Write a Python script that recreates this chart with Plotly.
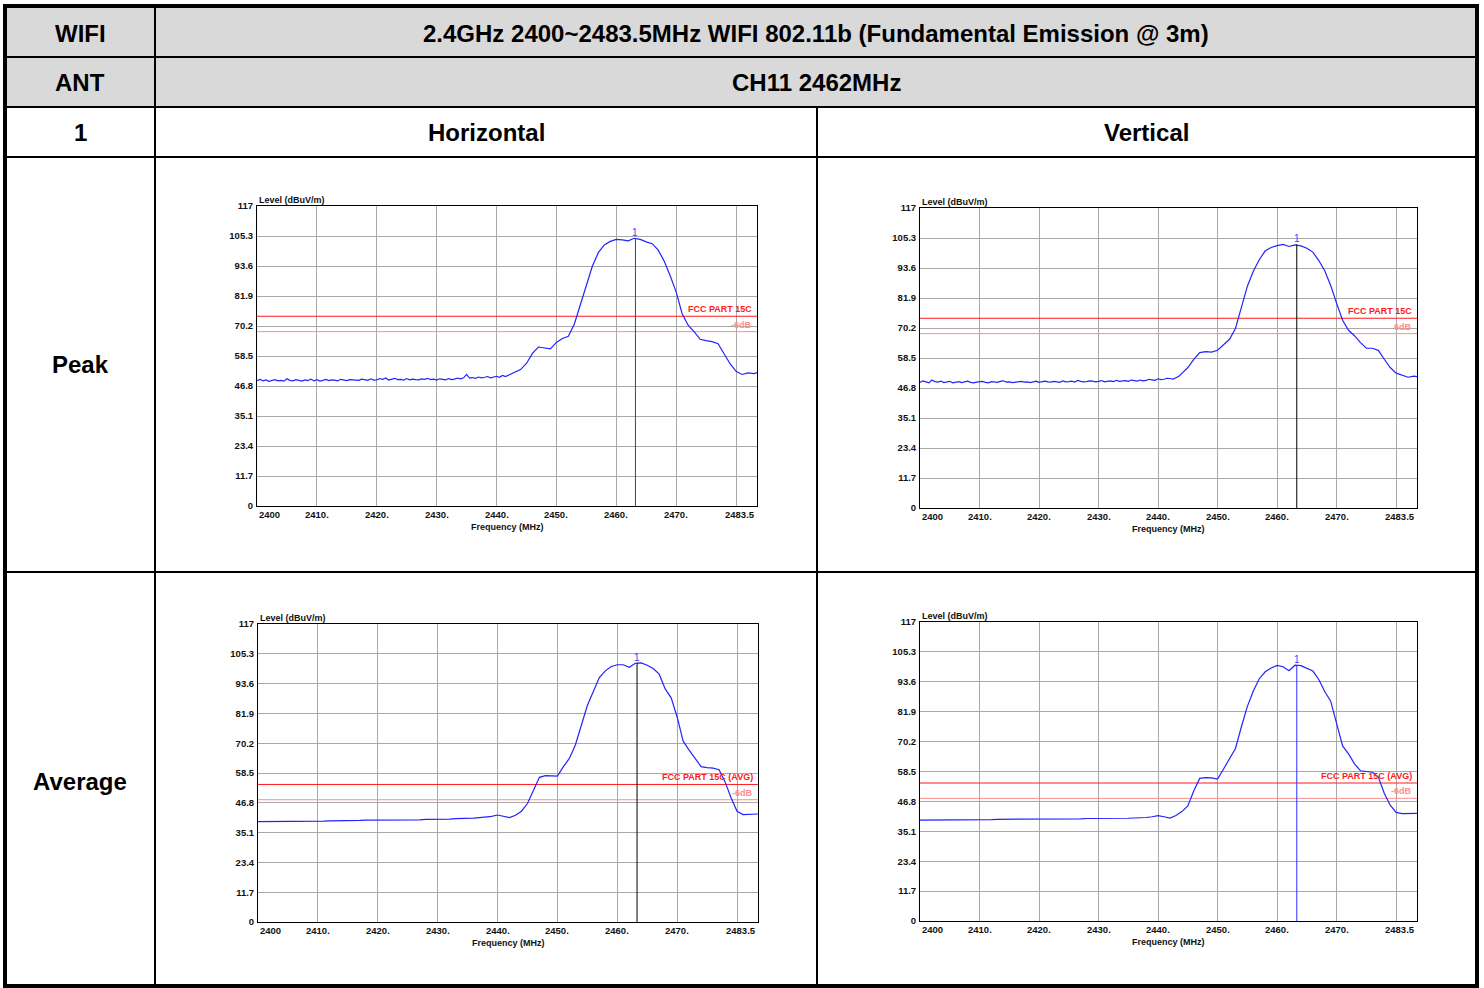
import plotly.graph_objects as go

# 频率轴 (MHz): 峰值图底噪部分 0.5 MHz 一点, 其余 1 MHz 一点
FREQ_PK = [2400 + 0.5 * i for i in range(88)] + [2444 + i for i in range(40)] + [2483.5]
FREQ_AV = [2400 + i for i in range(84)] + [2483.5]

# 四个测试图的读数 (dBuV/m)
peak_h = [48.9, 49.4, 48.8, 49.2, 48.6, 49.1, 49.3, 48.8, 49.0, 48.7,   # 2400-2404.5
          49.6, 49.0, 48.8, 49.3, 49.1, 48.7, 49.2, 48.9, 49.5, 48.8,   # 2405-2409.5
          49.3, 48.7, 49.0, 49.4, 48.9, 49.2, 49.1, 48.8, 49.4, 49.0,   # 2410-2414.5
          48.9, 49.3, 49.2, 48.9, 49.0, 49.5, 49.3, 49.0, 49.6, 49.1,   # 2415-2419.5
          49.2, 49.7, 49.4, 49.9, 49.1, 49.5, 49.8, 49.3, 49.4, 49.1,   # 2420-2424.5
          49.7, 49.2, 49.5, 49.3, 49.2, 49.6, 49.4, 49.8, 49.3, 49.5,   # 2425-2429.5
          49.1, 49.6, 49.4, 49.2, 49.7, 49.3, 49.5, 49.9, 49.6, 50.0,   # 2430-2434.5
          51.3, 49.9, 50.1, 49.8, 50.3, 50.0, 50.2, 50.5, 50.0, 50.4,   # 2435-2439.5
          50.6, 50.2, 50.9, 50.5, 51.0, 51.4, 52.1, 52.6,               # 2440-2443.5
          53.2, 55.6, 59.5, 62.0, 61.7, 61.3,                           # 2444-2449
          63.8, 65.3, 66.2, 71.0, 78.5, 86.5, 93.5, 98.8, 101.8, 103.2,
          104.0, 103.8, 103.4, 104.4, 104.0, 103.0, 102.3, 99.8, 95.5, 89.8,
          83.5, 75.0, 70.5, 68.0, 65.0, 64.5, 64.1, 63.3, 59.5, 55.5,
          52.5, 51.3, 51.9, 51.6, 52.0]
peak_v = [49.0, 49.6, 49.2, 48.8, 49.9, 49.3, 49.1, 49.5, 48.9, 49.2,   # 2400-2404.5
          49.4, 48.8, 49.1, 49.3, 48.9, 49.2, 49.5, 49.0, 48.8, 49.1,   # 2405-2409.5
          49.2, 49.4, 49.0, 48.8, 49.3, 49.1, 49.0, 49.4, 49.6, 49.1,   # 2410-2414.5
          49.2, 48.9, 49.0, 49.3, 49.4, 49.1, 49.2, 48.9, 49.1, 49.5,   # 2415-2419.5
          49.0, 49.3, 49.5, 49.2, 49.1, 49.4, 49.3, 49.0, 49.6, 49.2,   # 2420-2424.5
          49.3, 49.5, 49.1, 49.8, 49.4, 49.2, 49.3, 49.6, 49.5, 49.2,   # 2425-2429.5
          49.4, 49.7, 49.2, 49.5, 49.6, 49.3, 49.8, 49.4, 49.5, 49.7,   # 2430-2434.5
          49.4, 49.9, 49.7, 49.5, 49.9, 49.6, 49.8, 50.2, 50.0, 49.8,   # 2435-2439.5
          50.4, 50.1, 50.2, 50.6, 50.5, 50.3, 50.8, 51.4,               # 2440-2443.5
          52.5, 54.8, 58.0, 60.6, 61.0, 60.8,                           # 2444-2449
          61.5, 63.5, 65.8, 70.0, 78.5, 86.5, 92.3, 96.8, 100.3, 101.6,
          102.3, 102.8, 102.0, 102.6, 102.2, 101.3, 99.8, 96.5, 92.5, 86.8,
          79.8, 73.2, 69.3, 67.2, 64.5, 62.3, 62.3, 61.5, 58.0, 54.8,
          52.6, 51.7, 51.0, 51.4, 51.2]
avg_h = [39.4, 39.4, 39.4, 39.5, 39.4, 39.5, 39.5, 39.5, 39.5, 39.6,
         39.6, 39.6, 39.7, 39.7, 39.7, 39.8, 39.8, 39.9, 40.0, 40.0,
         40.0, 40.1, 40.1, 40.1, 40.2, 40.2, 40.2, 40.1, 40.3, 40.3,
         40.3, 40.4, 40.4, 40.6, 40.6, 40.7, 40.8, 41.0, 41.2, 41.5,
         42.0, 41.4, 41.0, 41.9, 43.5, 46.5, 51.5, 56.8, 57.5, 57.5,
         57.3, 61.0, 64.2, 69.5, 77.0, 85.0, 90.5, 96.0, 98.6, 100.3,
         101.0, 101.0, 100.0, 101.6, 101.7, 100.8, 99.5, 97.3, 91.5, 88.0,
         80.5, 71.0, 67.5, 64.0, 61.0, 60.6, 60.4, 59.8, 55.0, 48.8,
         43.5, 42.2, 42.3, 42.4, 42.4]
avg_v = [39.5, 39.5, 39.5, 39.5, 39.6, 39.6, 39.6, 39.6, 39.6, 39.7,
         39.7, 39.7, 39.7, 39.8, 39.8, 39.8, 39.8, 39.9, 39.9, 39.9,
         39.9, 39.9, 40.0, 40.0, 40.0, 40.0, 40.0, 40.0, 40.1, 40.1,
         40.0, 40.1, 40.1, 40.2, 40.2, 40.2, 40.3, 40.3, 40.5, 40.8,
         41.2, 40.8, 40.3, 41.3, 42.8, 45.0, 51.0, 55.8, 56.1, 56.0,
         55.5, 59.5, 63.3, 67.5, 76.0, 84.0, 90.0, 94.8, 97.5, 99.0,
         100.0, 99.5, 97.9, 100.1, 99.9, 99.0, 97.8, 94.5, 89.8, 86.0,
         77.6, 68.5, 65.4, 61.5, 58.8, 58.5, 58.2, 56.3, 50.0, 45.3,
         42.5, 42.0, 42.1, 42.0, 42.1]

marker_freq = [2463.2, 2463.3, 2463.3, 2463.3]
marker_level = [104.4, 102.8, 101.8, 100.1]

peak_limit = 74
avg_limit = 54
limit_margin = 6

y_ticks = [0, 11.7, 23.4, 35.1, 46.8, 58.5, 70.2, 81.9, 93.6, 105.3, 117]
y_labels = ["0", "11.7", "23.4", "35.1", "46.8", "58.5", "70.2", "81.9", "93.6", "105.3", "117"]
x_grid = [2410, 2420, 2430, 2440, 2450, 2460, 2470, 2480]
x_ticks = [2400, 2410, 2420, 2430, 2440, 2450, 2460, 2470, 2483.5]
x_labels = ["2400", "2410.", "2420.", "2430.", "2440.", "2450.", "2460.", "2470.", "2483.5"]

W, H = 1484, 988
FONT = "Arial, 'Liberation Sans', sans-serif"


def px(x):
    return x / W


def py(y):
    return 1 - y / H


# 每个图: 频率, 数据, 限值, 限值标签, 6dB 标签, 标记线颜色, 像素框 (左, 上, 右, 下)
panels = [
    (FREQ_PK, peak_h, peak_limit, "FCC PART 15C", "-6dB", "#3030ff", (257, 206, 757, 506)),
    (FREQ_PK, peak_v, peak_limit, "FCC PART 15C", "6dB", "#000000", (920, 208, 1417, 508)),
    (FREQ_AV, avg_h, avg_limit, "FCC PART 15C (AVG)", "-6dB", "#000000", (258, 624, 758, 922)),
    (FREQ_AV, avg_v, avg_limit, "FCC PART 15C (AVG)", "-6dB", "#3030ff", (920, 622, 1417, 921)),
]

fig = go.Figure()
annotations = []
shapes = []

for i, (freq, vals, limit, lim_text, db_text, mk_color, box) in enumerate(panels, start=1):
    xa = "x" if i == 1 else f"x{i}"
    ya = "y" if i == 1 else f"y{i}"
    l, t, r, b = box
    fig.update_layout({
        f"xaxis{'' if i == 1 else i}": dict(
            domain=[px(l), px(r)], anchor=ya, range=[2400, 2483.5],
            tickvals=x_grid, showticklabels=False, ticks="", automargin=False,
            showgrid=True, gridcolor="#a8a8a8", gridwidth=1, zeroline=False,
            showline=True, linecolor="black", linewidth=1, mirror=True,
        ),
        f"yaxis{'' if i == 1 else i}": dict(
            domain=[py(b), py(t)], anchor=xa, range=[0, 117],
            tickvals=y_ticks, ticktext=[f"<b>{s}</b>" for s in y_labels],
            tickfont=dict(size=9.5, color="#111111", family=FONT), ticks="",
            ticklabelstandoff=1, automargin=False,
            showgrid=True, gridcolor="#a8a8a8", gridwidth=1, zeroline=False,
            showline=True, linecolor="black", linewidth=1, mirror=True,
        ),
    })

    # 限值线
    fig.add_trace(go.Scatter(x=[2400, 2483.5], y=[limit, limit], mode="lines",
                             line=dict(color="#ff1a1a", width=1), xaxis=xa, yaxis=ya,
                             hoverinfo="skip", showlegend=False))
    fig.add_trace(go.Scatter(x=[2400, 2483.5], y=[limit - limit_margin] * 2, mode="lines",
                             line=dict(color="#ff8c8c", width=1), xaxis=xa, yaxis=ya,
                             hoverinfo="skip", showlegend=False))
    # 测量曲线
    fig.add_trace(go.Scatter(x=freq, y=vals, mode="lines",
                             line=dict(color="#2323ff", width=1.2), xaxis=xa, yaxis=ya,
                             showlegend=False))
    # 标记线
    mf, ml = marker_freq[i - 1], marker_level[i - 1]
    fig.add_trace(go.Scatter(x=[mf, mf], y=[0, ml], mode="lines",
                             line=dict(color=mk_color, width=1), xaxis=xa, yaxis=ya,
                             hoverinfo="skip", showlegend=False))

    small = dict(family=FONT, size=9, color="#111111")
    annotations += [
        dict(text="<b>Level (dBuV/m)</b>", xref=f"{xa} domain", yref=f"{ya} domain",
             x=0, y=1, xanchor="left", yanchor="bottom", yshift=-1, showarrow=False, font=small),
        dict(text="<b>Frequency (MHz)</b>", xref=f"{xa} domain", yref=f"{ya} domain",
             x=0.5, y=0, xanchor="center", yanchor="top", yshift=-14, showarrow=False, font=small),
        dict(text="1", xref=xa, yref=ya, x=mf, y=ml, xanchor="center", yanchor="bottom",
             yshift=-2, showarrow=False, font=dict(family=FONT, size=10, color="#3b3bff")),
        dict(text=f"<b>{lim_text}</b>", xref=f"{xa} domain", yref=ya, x=1, y=limit,
             xanchor="right", yanchor="bottom", xshift=-3, yshift=0, showarrow=False,
             font=dict(family=FONT, size=9, color="#ff1a1a")),
        dict(text=f"<b>{db_text}</b>", xref=f"{xa} domain", yref=ya, x=1, y=limit - limit_margin,
             xanchor="right", yanchor="bottom", xshift=-3, yshift=0, showarrow=False,
             font=dict(family=FONT, size=9, color="#ff8c8c")),
    ]
    for xv, xl in zip(x_ticks, x_labels):
        anchor = "left" if xv == 2400 else ("right" if xv == 2483.5 else "center")
        annotations.append(dict(text=f"<b>{xl}</b>", xref=xa, yref=f"{ya} domain", x=xv, y=0,
                                xanchor=anchor, yanchor="top", yshift=-1, showarrow=False,
                                font=dict(family=FONT, size=9.5, color="#111111")))

# 表格
shapes.append(dict(type="rect", xref="paper", yref="paper", x0=px(6), x1=px(1477),
                   y0=py(107), y1=py(7), fillcolor="#d9d9d9", line=dict(width=0), layer="below"))
for y in [57, 107, 157, 572]:
    shapes.append(dict(type="line", xref="paper", yref="paper", x0=px(6), x1=px(1477),
                       y0=py(y), y1=py(y), line=dict(color="black", width=2)))
shapes.append(dict(type="line", xref="paper", yref="paper", x0=px(155), x1=px(155),
                   y0=py(7), y1=py(987), line=dict(color="black", width=2)))
shapes.append(dict(type="line", xref="paper", yref="paper", x0=px(817), x1=px(817),
                   y0=py(107), y1=py(987), line=dict(color="black", width=2)))
shapes.append(dict(type="rect", xref="paper", yref="paper", x0=px(5), x1=px(1477),
                   y0=py(986), y1=py(6), line=dict(color="black", width=4)))

cells = [
    ("WIFI", 80, 33),
    ("2.4GHz 2400~2483.5MHz WIFI 802.11b (Fundamental Emission @ 3m)", 816, 33),
    ("ANT", 80, 83),
    ("CH11 2462MHz", 816, 83),
    ("1", 80, 133),
    ("Horizontal", 486, 133),
    ("Vertical", 1146, 133),
    ("Peak", 80, 365),
    ("Average", 80, 781),
]
for text, cx, cy in cells:
    annotations.append(dict(text=f"<b>{text}</b>", xref="paper", yref="paper", x=px(cx), y=py(cy),
                            xanchor="center", yanchor="middle", showarrow=False,
                            font=dict(family=FONT, size=24, color="black")))

fig.update_layout(
    width=W, height=H,
    margin=dict(l=0, r=0, t=0, b=0, pad=0, autoexpand=False),
    paper_bgcolor="white", plot_bgcolor="white",
    showlegend=False,
    annotations=annotations, shapes=shapes,
    font=dict(family=FONT),
)

# 去掉页面默认边距, 让图从左上角开始
fig.write_html("out.html", config={"displayModeBar": False},
               post_script="document.body.style.margin='0px';")
